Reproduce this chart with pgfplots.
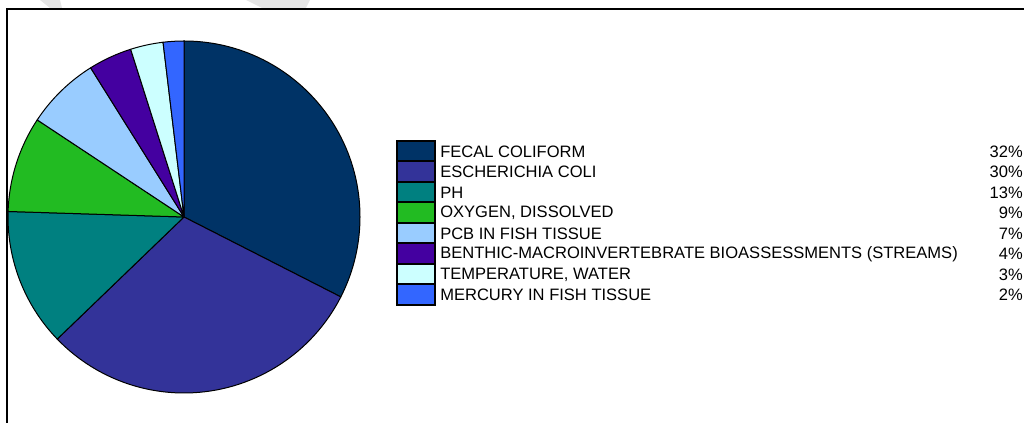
\documentclass[border=0pt]{standalone}
\usepackage{pgfplots}
\usepackage{pgfplotstable}
\pgfplotsset{compat=1.18}
\usepackage{fontspec}
\setmainfont{Liberation Sans}

\pgfplotstableread[col sep=semicolon]{
name;value;label
FECAL COLIFORM;32.5;32
ESCHERICHIA COLI;30.3;30
PH;12.7;13
OXYGEN, DISSOLVED;8.8;9
PCB IN FISH TISSUE;6.8;7
BENTHIC-MACROINVERTEBRATE BIOASSESSMENTS (STREAMS);4.0;4
TEMPERATURE, WATER;3.0;3
MERCURY IN FISH TISSUE;1.9;2
}\piedata

\definecolor{c0}{HTML}{003366}
\definecolor{c1}{HTML}{333399}
\definecolor{c2}{HTML}{008080}
\definecolor{c3}{HTML}{22BB22}
\definecolor{c4}{HTML}{99CCFF}
\definecolor{c5}{HTML}{4400A0}
\definecolor{c6}{HTML}{CCFFFF}
\definecolor{c7}{HTML}{3366FF}
\definecolor{wm}{HTML}{E6E6E6}

\def\cum{90}
\pgfplotsforeachungrouped \i in {0,...,7}{%
  \pgfplotstablegetelem{\i}{value}\of\piedata
  \pgfmathsetmacro\e{\cum-3.6*\pgfplotsretval}%
  \expandafter\xdef\csname sa\i\endcsname{\cum}%
  \expandafter\xdef\csname ea\i\endcsname{\e}%
  \xdef\cum{\e}%
  \pgfplotstablegetelem{\i}{name}\of\piedata
  \expandafter\xdef\csname nm\i\endcsname{\pgfplotsretval}%
  \pgfplotstablegetelem{\i}{label}\of\piedata
  \expandafter\xdef\csname lb\i\endcsname{\pgfplotsretval}%
}

\begin{document}
\begin{tikzpicture}
\begin{axis}[
  x=0.75pt, y=0.75pt,
  xmin=0, xmax=1024, ymin=0, ymax=423,
  hide axis, clip=true,
  at={(0,0)}, anchor=south west,
]
% watermark fragments
\fill[wm] (axis cs:40,423) -- (axis cs:60,423) -- (axis cs:62,415) -- (axis cs:50,415) -- cycle;
\fill[wm] (axis cs:246,423) -- (axis cs:310,423) -- (axis cs:306,415) -- (axis cs:262,415) -- cycle;
% frame
\draw[black, line width=1.5pt] (axis cs:7,-10) -- (axis cs:7,414) -- (axis cs:1100,414);
% pie
\pgfplotsinvokeforeach{0,...,7}{%
  \filldraw[fill=c#1, draw=black, line width=0.75pt, line join=round]
    (axis cs:184,206) -- ++(\csname sa#1\endcsname:132pt)
    arc[start angle=\csname sa#1\endcsname, end angle=\csname ea#1\endcsname, radius=132pt] -- cycle;
}
% legend
\pgfplotsinvokeforeach{0,...,7}{%
  \filldraw[fill=c#1, draw=black, line width=1.5pt]
    (axis cs:397,{423-141-20.5*#1}) rectangle (axis cs:435,{423-161.5-20.5*#1});
  \node[anchor=west, inner sep=0pt, font=\fontsize{12.4pt}{14pt}\selectfont]
    at (axis cs:440,{423-151.5-20.5*#1}) {\csname nm#1\endcsname};
  \node[anchor=east, inner sep=0pt, font=\fontsize{12.4pt}{14pt}\selectfont]
    at (axis cs:1023,{423-151.5-20.5*#1}) {\csname lb#1\endcsname\%};
}
\end{axis}
\pgfresetboundingbox
\path (0,0) rectangle (768pt,317.25pt);
\end{tikzpicture}
\end{document}
